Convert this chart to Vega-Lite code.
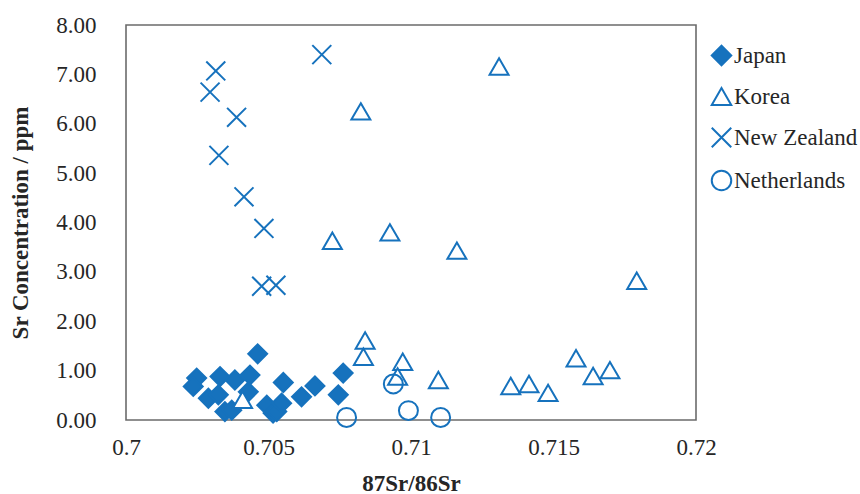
{
  "$schema": "https://vega.github.io/schema/vega-lite/v6.json",
  "width": 570,
  "height": 395,
  "autosize": {"type": "none"},
  "padding": {"left": 126, "top": 25, "right": 164, "bottom": 74},
  "background": "white",
  "config": {
    "font": "Liberation Serif, Times New Roman, serif",
    "view": {"stroke": "#6b6b6b", "strokeWidth": 1.6},
    "axis": {"grid": false, "ticks": false, "domain": false, "labelFlush": false, "labelOverlap": false, "labelFont": "Liberation Serif, Times New Roman, serif", "labelFontSize": 23, "labelColor": "#262626", "titleFont": "Liberation Serif, Times New Roman, serif", "titleFontSize": 23, "titleFontWeight": "bold", "titleColor": "#262626"},
    "legend": {"labelFont": "Liberation Serif, Times New Roman, serif"}
  },
  "data": {"values": [
    {"c": "Japan", "x": 0.70462, "y": 1.34},
    {"c": "Japan", "x": 0.70248, "y": 0.85},
    {"c": "Japan", "x": 0.70236, "y": 0.68},
    {"c": "Japan", "x": 0.70330, "y": 0.88},
    {"c": "Japan", "x": 0.70382, "y": 0.81},
    {"c": "Japan", "x": 0.70435, "y": 0.91},
    {"c": "Japan", "x": 0.70429, "y": 0.57},
    {"c": "Japan", "x": 0.70289, "y": 0.44},
    {"c": "Japan", "x": 0.70324, "y": 0.51},
    {"c": "Japan", "x": 0.70347, "y": 0.17},
    {"c": "Japan", "x": 0.70371, "y": 0.20},
    {"c": "Japan", "x": 0.70494, "y": 0.30},
    {"c": "Japan", "x": 0.70516, "y": 0.14},
    {"c": "Japan", "x": 0.70529, "y": 0.17},
    {"c": "Japan", "x": 0.70546, "y": 0.34},
    {"c": "Japan", "x": 0.70552, "y": 0.76},
    {"c": "Japan", "x": 0.70616, "y": 0.47},
    {"c": "Japan", "x": 0.70663, "y": 0.69},
    {"c": "Japan", "x": 0.70762, "y": 0.95},
    {"c": "Japan", "x": 0.70745, "y": 0.51},
    {"c": "Korea", "x": 0.71309, "y": 7.16},
    {"c": "Korea", "x": 0.70824, "y": 6.25},
    {"c": "Korea", "x": 0.70724, "y": 3.63},
    {"c": "Korea", "x": 0.70926, "y": 3.80},
    {"c": "Korea", "x": 0.71161, "y": 3.43},
    {"c": "Korea", "x": 0.71792, "y": 2.82},
    {"c": "Korea", "x": 0.71350, "y": 0.69},
    {"c": "Korea", "x": 0.71414, "y": 0.73},
    {"c": "Korea", "x": 0.71481, "y": 0.55},
    {"c": "Korea", "x": 0.71579, "y": 1.25},
    {"c": "Korea", "x": 0.71639, "y": 0.89},
    {"c": "Korea", "x": 0.71698, "y": 1.01},
    {"c": "Korea", "x": 0.70839, "y": 1.61},
    {"c": "Korea", "x": 0.70833, "y": 1.28},
    {"c": "Korea", "x": 0.70971, "y": 1.18},
    {"c": "Korea", "x": 0.70953, "y": 0.88},
    {"c": "Korea", "x": 0.71096, "y": 0.81},
    {"c": "Korea", "x": 0.70409, "y": 0.41},
    {"c": "New Zealand", "x": 0.70687, "y": 7.40},
    {"c": "New Zealand", "x": 0.70315, "y": 7.07},
    {"c": "New Zealand", "x": 0.70295, "y": 6.64},
    {"c": "New Zealand", "x": 0.70388, "y": 6.13},
    {"c": "New Zealand", "x": 0.70326, "y": 5.36},
    {"c": "New Zealand", "x": 0.70414, "y": 4.52},
    {"c": "New Zealand", "x": 0.70484, "y": 3.88},
    {"c": "New Zealand", "x": 0.70476, "y": 2.71},
    {"c": "New Zealand", "x": 0.70526, "y": 2.73},
    {"c": "Netherlands", "x": 0.70774, "y": 0.05},
    {"c": "Netherlands", "x": 0.70991, "y": 0.19},
    {"c": "Netherlands", "x": 0.71104, "y": 0.05},
    {"c": "Netherlands", "x": 0.70938, "y": 0.73}
  ]},
  "mark": {"type": "point", "size": 360, "strokeWidth": 2, "opacity": 1, "strokeOpacity": 1, "fillOpacity": 1},
  "encoding": {
    "x": {"field": "x", "type": "quantitative", "title": "87Sr/86Sr",
      "scale": {"domain": [0.7, 0.72], "nice": false, "zero": false},
      "axis": {"values": [0.7, 0.705, 0.71, 0.715, 0.72], "format": "~g", "labelPadding": 16, "titleY": 70, "titleBaseline": "alphabetic"}},
    "y": {"field": "y", "type": "quantitative", "title": "Sr Concentration / ppm",
      "scale": {"domain": [0, 8], "nice": false},
      "axis": {"values": [0, 1, 2, 3, 4, 5, 6, 7, 8], "format": ".2f", "labelPadding": 30, "titleX": -106, "titleBaseline": "middle"}},
    "shape": {"field": "c", "type": "nominal",
      "scale": {"domain": ["Japan", "Korea", "New Zealand", "Netherlands"], "range": ["diamond", "triangle-up", "M-1,-1L1,1M1,-1L-1,1", "circle"]},
      "legend": {"title": null, "orient": "none", "legendX": 584, "legendY": 19, "labelFontSize": 23, "labelColor": "#262626", "symbolSize": 380, "symbolStrokeWidth": 2, "labelOffset": 1, "rowPadding": 14, "padding": 0}},
    "fill": {"field": "c", "type": "nominal",
      "scale": {"domain": ["Japan", "Korea", "New Zealand", "Netherlands"], "range": ["#1672BD", "white", "transparent", "transparent"]},
      "legend": {"title": null, "orient": "none", "legendX": 584, "legendY": 19, "labelFontSize": 23, "labelColor": "#262626", "symbolSize": 380, "symbolStrokeWidth": 2, "labelOffset": 1, "rowPadding": 14, "padding": 0}},
    "stroke": {"field": "c", "type": "nominal",
      "scale": {"domain": ["Japan", "Korea", "New Zealand", "Netherlands"], "range": ["#1672BD", "#1672BD", "#1672BD", "#1672BD"]},
      "legend": {"title": null, "orient": "none", "legendX": 584, "legendY": 19, "labelFontSize": 23, "labelColor": "#262626", "symbolSize": 380, "symbolStrokeWidth": 2, "labelOffset": 1, "rowPadding": 14, "padding": 0}}
  }
}
